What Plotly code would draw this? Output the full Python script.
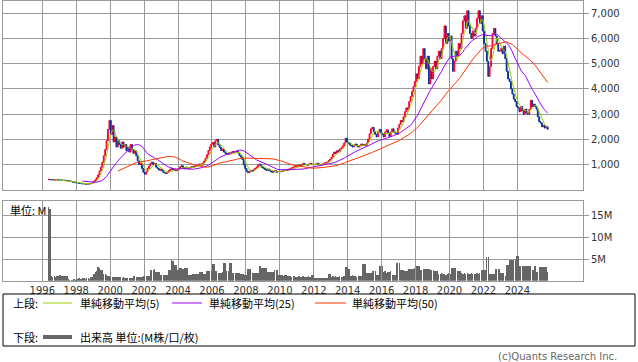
import pandas as pd
import numpy as np
import plotly.graph_objects as go

W, H = 638, 362

# Monthly closes, 1996-05 .. 2025-10
close = [
    420, 400, 410, 395, 400, 390, 405, 390,                              # 1996 (May-)
    390, 385, 380, 380, 375, 370, 360, 350, 330, 310, 300, 290,          # 1997
    280, 270, 260, 250, 245, 240, 230, 225, 230, 240, 260, 290,          # 1998
    330, 400, 480, 600, 750, 900, 1100, 1350, 1600, 1950, 2400, 2750,    # 1999
    2200, 2550, 1900, 2100, 1700, 1950, 1800, 1650, 1900, 1700, 1800, 1550,  # 2000
    1700, 1500, 1800, 1600, 1450, 1550, 1350, 1150, 1000, 1050, 850, 700,    # 2001
    620, 720, 850, 950, 1050, 1100, 1000, 1050, 900, 850, 780, 820,      # 2002
    760, 700, 680, 650, 700, 760, 820, 860, 780, 820, 760, 800,          # 2003
    850, 920, 960, 880, 840, 900, 860, 840, 880, 920, 900, 950,          # 2004
    940, 980, 1000, 1030, 980, 1060, 1150, 1260, 1400, 1560, 1700, 1820, # 2005
    1880, 1700, 1950, 2000, 1780, 1680, 1560, 1620, 1500, 1450, 1400, 1460,  # 2006
    1420, 1470, 1520, 1460, 1500, 1540, 1460, 1360, 1300, 1200, 1000, 850,   # 2007
    740, 680, 720, 780, 740, 800, 860, 900, 980, 1020, 940, 880,         # 2008
    860, 800, 780, 830, 760, 740, 700, 720, 760, 700, 720, 730,          # 2009
    720, 740, 760, 790, 800, 780, 820, 850, 880, 900, 920, 950,          # 2010
    960, 980, 940, 1000, 1050, 1020, 1000, 980, 1020, 1050, 1000, 1010,  # 2011
    1000, 1020, 1060, 1000, 980, 1000, 1030, 1060, 1080, 1100, 1160, 1220,   # 2012
    1300, 1420, 1500, 1450, 1560, 1500, 1620, 1660, 1750, 1860, 2050, 1900,  # 2013
    1850, 1780, 1750, 1700, 1760, 1820, 1740, 1700, 1760, 1820, 1760, 1800,  # 2014
    1760, 1860, 2020, 2220, 2420, 2480, 2300, 2200, 2100, 2300, 2400, 2250,  # 2015
    2200, 2100, 2300, 2380, 2250, 2120, 2300, 2420, 2300, 2250, 2200, 2450,  # 2016
    2600, 2750, 2700, 2900, 3100, 3250, 3200, 3500, 3700, 3900, 4100, 4300,  # 2017
    4600, 4400, 4900, 5300, 5000, 5600, 5200, 4800, 5300, 4200, 4800, 4400,  # 2018
    4900, 5100, 4800, 5300, 5500, 5200, 5600, 6000, 6500, 5800, 6200, 5900,  # 2019
    6100, 5200, 4700, 5100, 5500, 5300, 5800, 5600, 6200, 6700, 6900, 6400,  # 2020
    7100, 6500, 6200, 6000, 6300, 6100, 6400, 6800, 7100, 6600, 6900, 6300,  # 2021
    5800, 5500, 5100, 4500, 4900, 5600, 6200, 6400, 6100, 5800, 5500, 5500,  # 2022
    5600, 5400, 5700, 5200, 4700, 4400, 4300, 4000, 3800, 3600, 3500, 3300,  # 2023
    3250, 3100, 3300, 3150, 3000, 3200, 3050, 3000, 3200, 3550, 3300, 3400,  # 2024
    3300, 3200, 2900, 2700, 2650, 2500, 2550, 2450, 2500, 2400,              # 2025 (-Oct)
]

# Monthly volume, millions
volume = [
    16.9, 16.6, 1.0, 0.9, 1.0, 0.8, 1.1, 1.0,
    1.2, 1.1, 1.0, 1.0, 1.0, 1.0, 0.3, 0.2, 0.2, 0.2, 0.3, 0.2,
    0.5, 0.6, 0.6, 0.5, 0.6, 0.6, 0.5, 0.6, 0.6, 0.5, 0.8, 0.9,
    1.6, 2.1, 2.2, 3.1, 3.0, 2.5, 2.4, 1.6, 1.5, 1.2, 1.1, 1.0,
    0.9, 0.85, 0.9, 0.8, 0.85, 0.8, 0.9, 0.75, 0.7, 0.75, 0.7, 0.65,
    0.6, 0.6, 0.55, 0.6, 1.0, 1.0, 0.8, 0.8, 0.75, 0.8, 0.8, 1.0,
    1.0, 1.0, 1.1, 1.0, 2.5, 2.5, 2.4, 2.6, 2.0, 2.0, 1.9, 1.4,
    1.4, 1.4, 1.3, 1.4, 1.4, 2.5, 2.5, 4.7, 4.6, 3.7, 3.6, 2.5,
    2.5, 2.9, 2.9, 2.8, 2.9, 2.9, 2.9, 1.4, 1.4, 1.4, 1.5, 1.5,
    1.5, 1.5, 1.5, 2.0, 2.0, 2.0, 1.5, 1.5, 2.2, 2.2, 2.2, 2.3,
    3.8, 3.8, 2.2, 2.2, 1.8, 1.8, 1.8, 1.9, 4.1, 4.1, 2.2, 2.2,
    4.1, 4.1, 1.8, 1.8, 1.8, 1.8, 1.8, 1.8, 1.5, 1.5, 1.5, 1.2,
    1.2, 2.6, 2.6, 2.6, 1.8, 1.8, 1.8, 1.8, 1.8, 3.5, 3.5, 2.9,
    2.9, 2.9, 2.9, 2.0, 2.0, 2.0, 2.0, 2.0, 2.5, 2.5, 2.5, 1.2,
    1.2, 1.2, 1.1, 1.2, 1.2, 1.0, 1.0, 1.0, 0.9, 1.0, 1.0, 0.9,
    0.9, 1.0, 0.8, 0.9, 1.0, 0.9, 0.8, 0.9, 1.0, 0.9, 1.2, 1.2,
    0.6, 0.6, 0.6, 0.7, 0.6, 0.6, 0.6, 0.6, 0.7, 0.6, 1.5, 1.5,
    0.9, 1.0, 0.8, 1.0, 0.9, 0.8, 1.0, 0.9, 0.8, 1.0, 3.1, 3.1,
    2.8, 2.8, 1.1, 1.2, 1.0, 1.1, 0.9, 1.0, 1.1, 1.1, 3.8, 3.8,
    3.8, 1.8, 1.8, 1.8, 1.8, 2.3, 2.3, 2.3, 1.4, 1.4, 3.3, 3.3,
    3.3, 2.0, 2.2, 1.8, 2.0, 2.0, 2.2, 1.4, 1.4, 1.4, 4.0, 4.0,
    4.0, 2.5, 2.5, 2.5, 2.2, 2.2, 2.2, 2.8, 2.8, 2.8, 2.8, 2.9,
    3.3, 3.3, 3.3, 2.5, 2.5, 2.8, 2.8, 2.8, 2.8, 2.8, 2.5, 2.5,
    2.5, 2.3, 2.3, 2.3, 1.6, 1.5, 1.7, 1.5, 1.6, 1.4, 1.6, 1.7,
    1.6, 2.9, 2.9, 2.9, 2.9, 2.2, 2.2, 2.2, 1.7, 1.6, 1.7, 1.6,
    1.7, 1.6, 1.6, 1.7, 1.6, 1.6, 1.6, 1.7, 1.6, 1.7, 2.5, 2.5,
    2.5, 2.5, 5.4, 5.4, 1.5, 1.5, 1.5, 1.5, 2.6, 2.6, 2.6, 2.6,
    1.8, 1.8, 1.8, 1.0, 3.7, 3.7, 4.7, 4.7, 4.7, 4.8, 4.8, 5.8,
    5.8, 3.3, 3.3, 3.3, 3.3, 3.3, 3.3, 3.3, 3.3, 3.3, 2.5, 2.5,
    3.5, 2.0, 2.0, 3.1, 3.1, 3.1, 3.1, 3.1, 3.1, 2.0,
]

year_ticks = [str(y) for y in range(1996, 2025, 2)]
price_ticks = [1000, 2000, 3000, 4000, 5000, 6000, 7000]
vol_ticks = [5, 10, 15]
ma_periods = [5, 25, 50]

n = len(close)
dates = pd.date_range("1996-05-01", periods=n, freq="MS") + pd.Timedelta(days=14)
s = pd.Series(close, dtype=float)
opens = s.shift(1).fillna(s.iloc[0])
highs = np.maximum(opens, s)
lows = np.minimum(opens, s)

RED, BLUE = "#FF0033", "#003399"
MA_COLORS = ["#99CC00", "#9900FF", "#FF3300"]
GRID = "#999999"

fig = go.Figure()
fig.add_trace(go.Candlestick(
    x=dates, open=opens, high=highs, low=lows, close=s,
    increasing=dict(line=dict(color=RED, width=1), fillcolor=RED),
    decreasing=dict(line=dict(color=BLUE, width=1), fillcolor=BLUE),
    whiskerwidth=0, xaxis="x", yaxis="y", hoverinfo="skip", showlegend=False))
for p, c in zip(ma_periods, MA_COLORS):
    ma = s.rolling(p, min_periods=p).mean()
    fig.add_trace(go.Scatter(x=dates, y=ma, mode="lines", line=dict(color=c, width=1),
                             xaxis="x", yaxis="y", hoverinfo="skip", showlegend=False))
fig.add_trace(go.Bar(x=dates, y=volume, marker=dict(color="#666666", line=dict(width=0)),
                     xaxis="x2", yaxis="y2", hoverinfo="skip", showlegend=False))

def px(x):
    return x / W

def py(y):
    return 1 - y / H

xr = ["1993-09-07", "2027-11-14"]
xdom = [px(3), px(583)]
tick_dates = [f"{y}-01-01" for y in year_ticks]
num_font = dict(family="DejaVu Sans", size=10, color="#333333")
common_x = dict(type="date", range=xr, domain=xdom, tickvals=tick_dates, showgrid=True,
                gridcolor=GRID, gridwidth=1, showline=True, linecolor=GRID, linewidth=1,
                mirror=True, zeroline=False, ticks="", fixedrange=True)
fig.update_layout(
    width=W, height=H, margin=dict(l=0, r=0, t=0, b=0),
    paper_bgcolor="white", plot_bgcolor="white", boxgap=0.1, bargap=0,
    xaxis=dict(**common_x, anchor="y", showticklabels=False, rangeslider=dict(visible=False)),
    xaxis2=dict(**common_x, anchor="y2", ticktext=year_ticks, tickfont=num_font, matches="x"),
    yaxis=dict(domain=[py(189.9), py(0.5)], range=[0, 7507], side="right", anchor="x",
               tickvals=price_ticks, ticktext=[f"{v:,}" for v in price_ticks], tickfont=num_font,
               showgrid=True, gridcolor=GRID, showline=True, linecolor=GRID, mirror=True,
               ticks="outside", ticklen=5, tickcolor=GRID, zeroline=False, fixedrange=True),
    yaxis2=dict(domain=[py(280.7), py(201)], range=[0, 18.36], side="right", anchor="x2",
                tickvals=vol_ticks, ticktext=[f"{v}M" for v in vol_ticks], tickfont=num_font,
                showgrid=True, gridcolor=GRID, showline=True, linecolor=GRID, mirror=True,
                ticks="outside", ticklen=5, tickcolor=GRID, zeroline=False, fixedrange=True),
)

jp = dict(family="Noto Sans CJK JP", size=11, color="#000000")
shapes = [dict(type="rect", xref="paper", yref="paper", x0=px(3), x1=px(635), y0=py(346), y1=py(294),
               line=dict(color="#000000", width=1), fillcolor="rgba(0,0,0,0)")]
annots = [
    dict(text="単位: M", x=px(8), y=py(210), xanchor="left", yanchor="middle", font=jp),
    dict(text="上段:", x=px(11), y=py(303), xanchor="left", yanchor="middle", font=jp),
    dict(text="下段:", x=px(11), y=py(337), xanchor="left", yanchor="middle", font=jp),
    dict(text="出来高 単位:(M株/口/枚)", x=px(78), y=py(337), xanchor="left", yanchor="middle", font=jp),
    dict(text="(c)Quants Research Inc.", x=px(619), y=py(356), xanchor="right", yanchor="middle",
         font=dict(family="DejaVu Sans", size=10, color="#666666")),
]
leg_x = [(43, 72, 78), (172, 202, 207), (315, 346, 350)]
for (x0, x1, tx), p, c in zip(leg_x, ma_periods, MA_COLORS):
    shapes.append(dict(type="line", xref="paper", yref="paper", x0=px(x0), x1=px(x1), y0=py(303), y1=py(303),
                       line=dict(color=c, width=1)))
    annots.append(dict(text=f"単純移動平均({p})", x=px(tx), y=py(303), xanchor="left", yanchor="middle", font=jp))
shapes.append(dict(type="line", xref="paper", yref="paper", x0=px(43), x1=px(72), y0=py(337), y1=py(337),
                   line=dict(color="#666666", width=4)))
for a in annots:
    a.update(xref="paper", yref="paper", showarrow=False)
fig.update_layout(shapes=shapes, annotations=annots)

fig.write_html("out.html", config={"displayModeBar": False, "staticPlot": True},
               post_script="document.body.style.margin='0';document.body.style.padding='0';"
                           "document.documentElement.style.overflow='hidden';")
